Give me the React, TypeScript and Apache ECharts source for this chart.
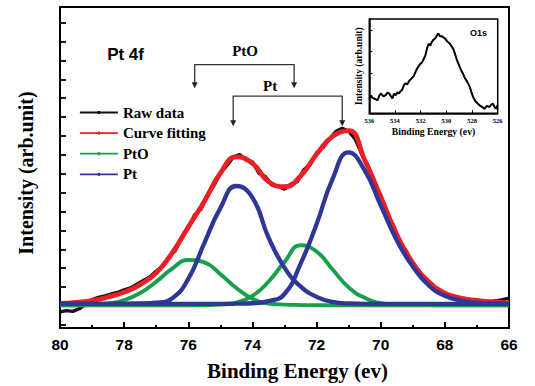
import React, { useEffect, useRef } from 'react';
import * as echarts from 'echarts';

const energies = [80, 79.5, 79, 78.5, 78, 77.5, 77, 76.5, 76, 75.5, 75, 74.5, 74, 73.5, 73, 72.5, 72, 71.5, 71, 70.5, 70, 69.5, 69, 68.5, 68, 67.5, 67, 66.5, 66];
const curveFitting = [1.3, 1.36, 1.45, 1.64, 1.9, 2.3, 2.92, 3.98, 5.35, 6.7, 8.2, 9.06, 8.72, 7.75, 7.48, 8.05, 9.2, 10.15, 10.45, 8.9, 6.95, 4.95, 3.45, 2.45, 1.85, 1.58, 1.46, 1.38, 1.32];
const ptoHigh = [1.2, 1.2, 1.22, 1.3, 1.48, 1.85, 2.45, 3.15, 3.6, 3.48, 2.85, 2.12, 1.55, 1.3, 1.24, 1.22, 1.21, 1.2, 1.2, 1.2, 1.2, 1.2, 1.2, 1.2, 1.2, 1.2, 1.2, 1.2, 1.2];
const ptoLow = [1.2, 1.2, 1.2, 1.2, 1.2, 1.2, 1.2, 1.2, 1.2, 1.21, 1.24, 1.35, 1.7, 2.45, 3.5, 4.38, 4.05, 3.1, 2.15, 1.6, 1.32, 1.25, 1.22, 1.21, 1.2, 1.2, 1.2, 1.2, 1.2];
const ptHigh = [1.28, 1.28, 1.28, 1.28, 1.29, 1.3, 1.34, 1.58, 2.6, 4.5, 6.35, 7.52, 6.9, 4.8, 3.2, 2.2, 1.65, 1.38, 1.3, 1.28, 1.28, 1.28, 1.28, 1.28, 1.28, 1.28, 1.28, 1.28, 1.28];
const ptLow = [1.28, 1.28, 1.28, 1.28, 1.28, 1.28, 1.28, 1.28, 1.28, 1.28, 1.28, 1.29, 1.31, 1.42, 1.8, 3.4, 5.5, 7.9, 9.3, 8.35, 6.5, 4.65, 3.25, 2.25, 1.7, 1.45, 1.34, 1.3, 1.28];

// Raw data sampled every 0.2 eV
const rawEnergies = [80, 79.8, 79.6, 79.4, 79.2, 79, 78.8, 78.6, 78.4, 78.2, 78, 77.8, 77.6, 77.4, 77.2, 77, 76.8, 76.6, 76.4, 76.2, 76, 75.8, 75.6, 75.4, 75.2, 75, 74.8, 74.6, 74.4, 74.2, 74, 73.8, 73.6, 73.4, 73.2, 73, 72.8, 72.6, 72.4, 72.2, 72, 71.8, 71.6, 71.4, 71.2, 71, 70.8, 70.6, 70.4, 70.2, 70, 69.8, 69.6, 69.4, 69.2, 69, 68.8, 68.6, 68.4, 68.2, 68, 67.8, 67.6, 67.4, 67.2, 67, 66.8, 66.6, 66.4, 66.2, 66];
const rawData = [0.85, 0.92, 0.88, 1.02, 1.25, 1.5, 1.62, 1.7, 1.8, 1.88, 2.02, 2.12, 2.32, 2.52, 2.7, 3.02, 3.28, 3.78, 4.12, 4.82, 5.28, 6.0, 6.3, 7.08, 7.55, 8.18, 8.6, 9.05, 9.18, 8.9, 8.8, 8.2, 8.02, 7.58, 7.52, 7.35, 7.62, 7.75, 8.38, 8.65, 9.28, 9.55, 10.02, 10.4, 10.58, 10.42, 10.02, 9.25, 8.62, 7.7, 7.02, 6.05, 5.42, 4.55, 4.08, 3.4, 3.02, 2.52, 2.3, 1.95, 1.84, 1.62, 1.56, 1.45, 1.43, 1.35, 1.4, 1.4, 1.44, 1.5, 1.58];

// Inset (O1s)
const insetEnergies = [536, 535.87, 535.74, 535.55, 535.36, 535.23, 535.1, 534.9, 534.72, 534.6, 534.46, 534.33, 534.2, 534.08, 533.95, 533.82, 533.69, 533.56, 533.44, 533.3, 533.18, 533.05, 532.92, 532.73, 532.54, 532.35, 532.15, 532.03, 531.9, 531.77, 531.64, 531.5, 531.38, 531.25, 531.13, 531.0, 530.87, 530.75, 530.62, 530.5, 530.36, 530.23, 530.1, 529.9, 529.72, 529.6, 529.46, 529.33, 529.2, 529.0, 528.82, 528.7, 528.56, 528.37, 528.18, 528.05, 527.92, 527.8, 527.67, 527.54, 527.41, 527.22, 527.03, 526.84, 526.64, 526.5, 526.38, 526.25, 526.13, 526];
const insetValues = [0.68, 0.8, 0.71, 0.66, 0.6, 0.8, 0.92, 0.78, 0.84, 0.95, 0.92, 0.8, 0.68, 0.9, 0.84, 0.96, 0.92, 1.02, 1.08, 1.3, 1.39, 1.33, 1.47, 1.6, 1.71, 1.98, 2.18, 2.28, 2.34, 2.5, 2.66, 3.0, 3.21, 3.12, 3.29, 3.4, 3.45, 3.58, 3.68, 3.55, 3.56, 3.5, 3.45, 3.3, 3.21, 3.1, 2.97, 2.75, 2.5, 2.2, 1.95, 1.82, 1.63, 1.45, 1.23, 0.98, 0.76, 0.62, 0.52, 0.44, 0.37, 0.3, 0.21, 0.34, 0.29, 0.4, 0.45, 0.3, 0.21, 0.37];
const insetXTicks = [526, 528, 530, 532, 534, 536];
const insetYTicks = [0.84, 1.84, 2.84, 3.84];

const mainYTicks = [0.17, 1.17, 2.17, 3.17, 4.17, 5.17, 6.17, 7.17, 8.17, 9.17, 10.17, 11.17, 12.17, 13.17, 14.17, 15.17, 16.17];

const legendNames = ['Raw data', 'Curve fitting', 'PtO', 'Pt'];

// Annotation brackets (energies of arrows)
const ptoArrowEnergies = [75.8, 72.7];
const ptArrowEnergies = [74.6, 71.2];

const SERIF = "'Times New Roman', 'Liberation Serif', serif";
const SANS = "Arial, 'Liberation Sans', sans-serif";

const RED = '#ec1f26';
const BLUE = '#2e3796';
const GREEN = '#17a04b';

export default function App() {
  const ref = useRef<HTMLDivElement>(null);

  useEffect(() => {
    const chart = echarts.init(ref.current as HTMLDivElement, null, { renderer: 'svg' });
    const pair = (xs: number[], ys: number[]) => xs.map((x, i) => [x, ys[i]]);

    const fitLine = (name: string, ys: number[], color: string, width: number) => ({
      type: 'line',
      name,
      xAxisIndex: 0,
      yAxisIndex: 0,
      data: pair(energies, ys),
      smooth: true,
      symbol: 'circle',
      showSymbol: false,
      lineStyle: { color, width },
      itemStyle: { color },
      silent: true,
    });

    const option: any = {
      animation: false,
      backgroundColor: '#fff',
      grid: [
        { left: 60, top: 7, width: 449, height: 321, show: true, borderColor: '#000', borderWidth: 2, backgroundColor: 'transparent' },
        { left: 369.3, top: 19, width: 128.4, height: 94.3, show: true, borderColor: '#000', borderWidth: 1.5, backgroundColor: '#fff' },
      ],
      legend: {
        data: legendNames,
        orient: 'vertical',
        left: 74,
        top: 100,
        itemWidth: 38,
        itemHeight: 4,
        itemGap: 5.6,
        textStyle: { fontFamily: SERIF, fontWeight: 'bold', fontSize: 15, color: '#000' },
        lineStyle: { width: 1.8 },
        selectedMode: false,
      },
      xAxis: [
        {
          type: 'value', gridIndex: 0, min: 66, max: 80, interval: 2, inverse: true,
          axisLine: { show: true, lineStyle: { color: '#000', width: 2 } },
          axisTick: { show: true, inside: true, length: 6, lineStyle: { color: '#000', width: 2 } },
          minorTick: { show: true, splitNumber: 2, length: 3, lineStyle: { color: '#000', width: 2 } },
          splitLine: { show: false },
          axisLabel: { color: '#000', fontFamily: SANS, fontWeight: 'bold', fontSize: 15.5, margin: 8 },
          name: 'Binding Energy (ev)', nameLocation: 'middle', nameGap: 32,
          nameTextStyle: { color: '#000', fontFamily: SERIF, fontWeight: 'bold', fontSize: 21, padding: [0, 0, 0, 26] },
        },
        {
          type: 'value', gridIndex: 1, min: 526, max: 536, interval: 2, inverse: true,
          axisLine: { show: true, lineStyle: { color: '#000', width: 1.5 } },
          axisTick: { show: true, inside: true, length: 3, lineStyle: { color: '#000', width: 1 }, customValues: insetXTicks },
          splitLine: { show: false },
          axisLabel: { color: '#000', fontFamily: SERIF, fontWeight: 'bold', fontSize: 6.5, margin: 4 },
          name: 'Binding Energy (ev)', nameLocation: 'middle', nameGap: 13,
          nameTextStyle: { color: '#000', fontFamily: SERIF, fontWeight: 'bold', fontSize: 9.7 },
        },
      ],
      yAxis: [
        {
          type: 'value', gridIndex: 0, min: 0, max: 17,
          axisLine: { show: true, lineStyle: { color: '#000', width: 2 } },
          axisTick: { show: true, inside: true, length: 6, lineStyle: { color: '#000', width: 1.8 }, customValues: mainYTicks },
          axisLabel: { show: false },
          splitLine: { show: false },
          name: 'Intensity (arb.unit)', nameLocation: 'middle', nameGap: 24,
          nameTextStyle: { color: '#000', fontFamily: SERIF, fontWeight: 'bold', fontSize: 20, padding: [0, 11, 0, 0] },
        },
        {
          type: 'value', gridIndex: 1, min: 0, max: 4.35,
          axisLine: { show: true, lineStyle: { color: '#000', width: 1.5 } },
          axisTick: { show: true, inside: true, length: 3, lineStyle: { color: '#000', width: 1 }, customValues: insetYTicks },
          axisLabel: { show: false },
          splitLine: { show: false },
          name: 'Intensity (arb.unit)', nameLocation: 'middle', nameGap: 5,
          nameTextStyle: { color: '#000', fontFamily: SERIF, fontWeight: 'bold', fontSize: 9.5 },
        },
      ],
      series: [
        {
          type: 'line', name: 'Raw data', xAxisIndex: 0, yAxisIndex: 0,
          data: pair(rawEnergies, rawData),
          symbol: 'circle', symbolSize: 3, showSymbol: false,
          lineStyle: { color: '#111', width: 3.4 }, itemStyle: { color: '#111' }, silent: true,
        },
        fitLine('Curve fitting', curveFitting, RED, 4.8),
        fitLine('PtO', ptoHigh, GREEN, 3.9),
        fitLine('PtO', ptoLow, GREEN, 3.9),
        fitLine('Pt', ptHigh, BLUE, 4.3),
        fitLine('Pt', ptLow, BLUE, 4.3),
        {
          type: 'line', name: 'O1s', xAxisIndex: 1, yAxisIndex: 1,
          data: pair(insetEnergies, insetValues),
          symbol: 'none',
          lineStyle: { color: '#000', width: 2 }, silent: true,
        },
      ],
    };

    chart.setOption(option);

    const P = (x: number, y: number) => chart.convertToPixel({ gridIndex: 0 }, [x, y]) as number[];
    const bracket = (xs: number[], barV: number, tipV: number) => {
      const [x1, yb] = P(xs[0], barV);
      const [x2] = P(xs[1], barV);
      const [, yt] = P(xs[0], tipV);
      const arrow = (x: number) => ({
        type: 'polygon',
        shape: { points: [[x - 3, yt - 6], [x + 3, yt - 6], [x, yt]] },
        style: { fill: '#222' },
      });
      return [
        {
          type: 'polyline',
          shape: { points: [[x1, yt - 5], [x1, yb], [x2, yb], [x2, yt - 5]] },
          style: { stroke: '#333', lineWidth: 1.3, fill: null },
        },
        arrow(x1),
        arrow(x2),
      ];
    };
    const label = (text: string, x: number, y: number, size: number, family: string, align: string) => {
      const [px, py] = P(x, y);
      return {
        type: 'text', x: px, y: py,
        style: { text, fontSize: size, fontWeight: 'bold', fontFamily: family, fill: '#000', align, verticalAlign: 'middle' },
      };
    };
    const [ox, oy] = chart.convertToPixel({ gridIndex: 1 }, [527.5, 3.7]) as number[];

    chart.setOption({
      graphic: [
        ...bracket(ptoArrowEnergies, 13.95, 12.7),
        ...bracket(ptArrowEnergies, 12.28, 10.69),
        label('PtO', 74.23, 14.67, 15, SERIF, 'center'),
        label('Pt', 73.45, 12.8, 15, SERIF, 'center'),
        label('Pt 4f', 78.53, 14.5, 17, SANS, 'left'),
        {
          type: 'text', x: ox, y: oy, z: 10,
          style: { text: 'O1s', fontSize: 9, fontWeight: 'bold', fontFamily: SANS, fill: '#000', align: 'center', verticalAlign: 'middle' },
        },
      ],
    });

    return () => chart.dispose();
  }, []);

  return <div ref={ref} style={{ position: 'absolute', left: 0, top: 0, width: 535, height: 386 }} />;
}
